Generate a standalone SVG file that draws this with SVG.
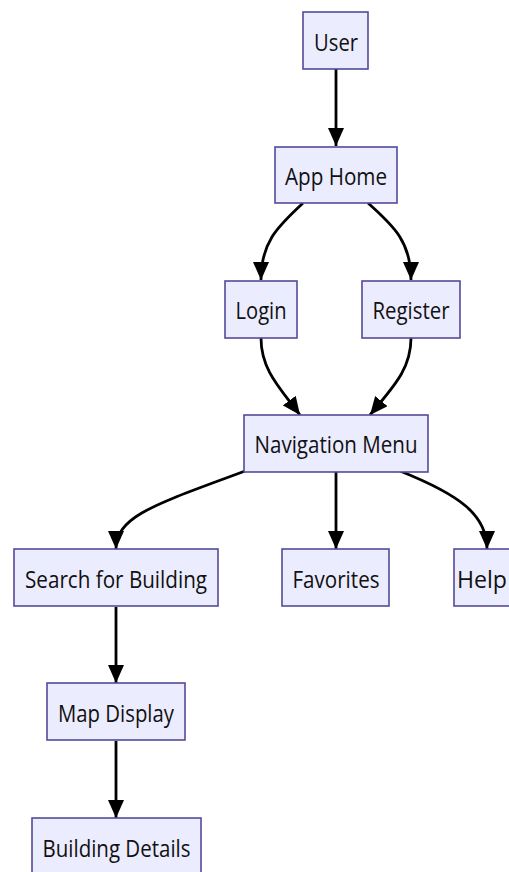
<svg xmlns="http://www.w3.org/2000/svg" width="509" height="872" viewBox="0 0 509 872">
<style>
.box{fill:#ECECFF;stroke:#554a9a;stroke-width:1.6}
.lbl{font-family:"Open Sans","Noto Sans","DejaVu Sans",sans-serif;font-size:24.5px;fill:#111;text-anchor:middle}
.edge{fill:none;stroke:#000;stroke-width:2.8}
</style>
<defs>
<marker id="arr" markerUnits="userSpaceOnUse" markerWidth="18" markerHeight="16" refX="18" refY="8" orient="auto" viewBox="0 0 18 16">
<path d="M0,0 L18,8 L0,16 z" fill="#000"/>
</marker>
</defs>
<rect width="509" height="872" fill="#fff"/>
<g id="connectors">
<path class="edge" marker-end="url(#arr)" d="M336,69 L336,146"/>
<path class="edge" marker-end="url(#arr)" d="M303,203 C280,225 261,240 261,280"/>
<path class="edge" marker-end="url(#arr)" d="M368,203 C392,225 411,240 411,280"/>
<path class="edge" marker-end="url(#arr)" d="M261,338 C261,370 280,388 300,415"/>
<path class="edge" marker-end="url(#arr)" d="M411,338 C411,370 392,388 370,415"/>
<path class="edge" marker-end="url(#arr)" d="M245,471 C160,503 116,515 116,549"/>
<path class="edge" marker-end="url(#arr)" d="M336,472 L336,549"/>
<path class="edge" marker-end="url(#arr)" d="M400,471 C460,495 487,515 487,549"/>
<path class="edge" marker-end="url(#arr)" d="M116,607 L116,683"/>
<path class="edge" marker-end="url(#arr)" d="M116,741 L116,818"/>
</g>
<g id="user"><rect class="box" x="303" y="12" width="65" height="57"/><text class="lbl" x="336" y="50.5" textLength="44" lengthAdjust="spacingAndGlyphs">User</text></g>
<g id="apphome"><rect class="box" x="275" y="147" width="122" height="56"/><text class="lbl" x="336" y="184.5" textLength="102" lengthAdjust="spacingAndGlyphs">App Home</text></g>
<g id="login"><rect class="box" x="225" y="281" width="72" height="57"/><text class="lbl" x="261" y="319" textLength="51" lengthAdjust="spacingAndGlyphs">Login</text></g>
<g id="register"><rect class="box" x="362" y="281" width="98" height="57"/><text class="lbl" x="411" y="319" textLength="77" lengthAdjust="spacingAndGlyphs">Register</text></g>
<g id="navmenu"><rect class="box" x="244" y="415" width="184" height="57"/><text class="lbl" x="336" y="453" textLength="163" lengthAdjust="spacingAndGlyphs">Navigation Menu</text></g>
<g id="search"><rect class="box" x="14" y="549" width="204" height="57"/><text class="lbl" x="116" y="587.5" textLength="182" lengthAdjust="spacingAndGlyphs">Search for Building</text></g>
<g id="favorites"><rect class="box" x="282" y="549" width="107" height="57"/><text class="lbl" x="336" y="587.5" textLength="87" lengthAdjust="spacingAndGlyphs">Favorites</text></g>
<g id="help"><rect class="box" x="454" y="549" width="80" height="57"/><text class="lbl" x="457" y="587.5" style="text-anchor:start" textLength="50" lengthAdjust="spacingAndGlyphs">Help</text></g>
<g id="mapdisplay"><rect class="box" x="47" y="683" width="138" height="57"/><text class="lbl" x="116" y="721.5" textLength="116" lengthAdjust="spacingAndGlyphs">Map Display</text></g>
<g id="buildingdetails"><rect class="box" x="32" y="818" width="169" height="57"/><text class="lbl" x="116.5" y="856.5" textLength="148" lengthAdjust="spacingAndGlyphs">Building Details</text></g>
</svg>
